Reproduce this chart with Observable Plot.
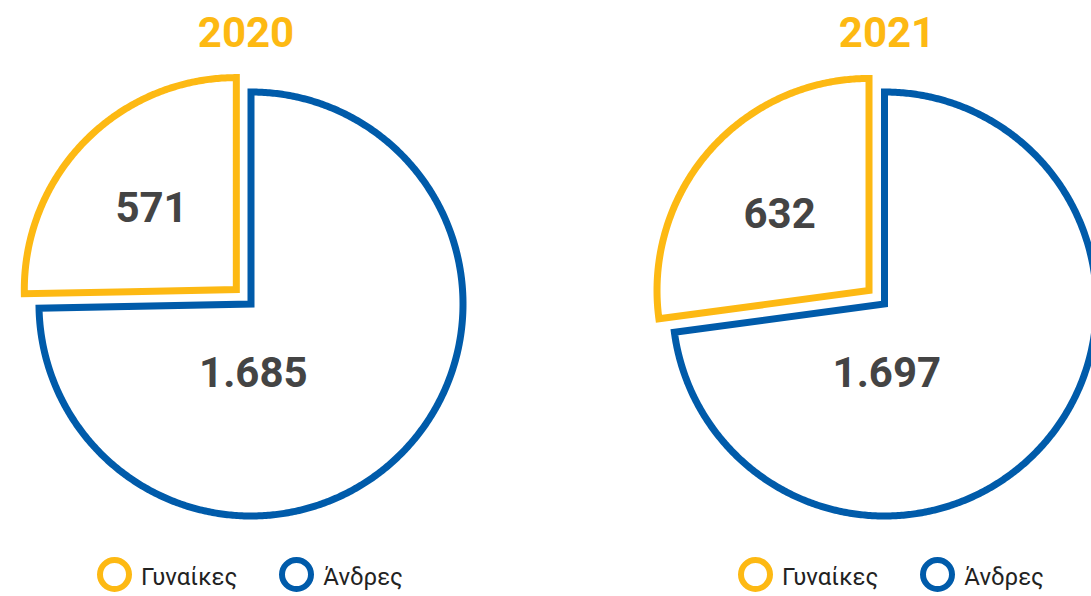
<!DOCTYPE html>
<html>
<head>
<meta charset="utf-8">
<script src="https://cdn.jsdelivr.net/npm/d3@7"></script>
<script src="https://cdn.jsdelivr.net/npm/@observablehq/plot@0.6"></script>
<style>
  html, body { margin: 0; padding: 0; background: #fff; overflow: hidden; }
  #wrap { position: relative; width: 1091px; height: 596px; overflow: hidden; font-family: Roboto, "Noto Sans", sans-serif; }
  #wrap svg { position: absolute; left: 0; top: 0; }
  .title { position: absolute; top: 12px; width: 240px; text-align: center; font: 700 42px/42px Roboto, sans-serif; color: #FDB913; }
  .legend { position: absolute; top: 557px; width: 400px; display: flex; justify-content: center; align-items: center; }
  .item { display: flex; align-items: center; margin: 0 21px; }
  .sw { width: 23px; height: 23px; border-radius: 50%; border: 6px solid; box-sizing: content-box; }
  .lab { margin-left: 9px; font: 400 24px/24px Roboto, sans-serif; color: #222; position: relative; top: 2px; }
</style>
</head>
<body>
<div id="wrap"></div>
<script>
// ---- data ----
const years = [2020, 2021];
const categories = ["Γυναίκες", "Άνδρες"];
const women = [571, 632];
const men = [1685, 1697];
const colors = ["#FDB913", "#005BAA"];

// ---- layout / style config ----
const W = 1091, H = 596;
const R = 212;                 // pie radius in px
const firstCenter = {x: 250.5, y: 303.5};
const gap = 633.5 / R;         // distance between pie centres, in radius units
const explode = [0.097, 0];    // per category, in radius units
const labelCfg = [{mid: true, k: 0.56}, {angle: 178 * Math.PI / 180, k: 0.32}];
const columnCenters = [246, 887];
const legendShift = 4;

const fmt = d3.formatLocale({decimal: ",", thousands: ".", grouping: [3], currency: ["", "€"]}).format(",d");

const slices = [];
const labels = [];
years.forEach((yr, i) => {
  const vals = [women[i], men[i]];
  const total = d3.sum(vals);
  const start = -2 * Math.PI * women[i] / total;
  const arcs = d3.pie().sort(null).startAngle(start).endAngle(start + 2 * Math.PI)(vals);
  arcs.forEach((a, j) => {
    const mid = (a.startAngle + a.endAngle) / 2;
    const cx = i * gap + explode[j] * Math.sin(mid);
    const cy = explode[j] * Math.cos(mid);
    const key = yr + "-" + categories[j];
    const pts = [];
    pts.push([cx + 0.5 * Math.sin(a.startAngle), cy + 0.5 * Math.cos(a.startAngle)]);
    const n = Math.ceil((a.endAngle - a.startAngle) / (Math.PI / 360));
    for (let k = 0; k <= n; k++) {
      const t = a.startAngle + (a.endAngle - a.startAngle) * k / n;
      pts.push([cx + Math.sin(t), cy + Math.cos(t)]);
    }
    pts.push([cx, cy]);
    pts.push(pts[0]);
    pts.forEach(p => slices.push({key, cat: categories[j], x: p[0], y: p[1]}));
    const lc = labelCfg[j];
    const la = lc.mid ? mid : lc.angle;
    labels.push({x: cx + lc.k * Math.sin(la), y: cy + lc.k * Math.cos(la), text: fmt(vals[j])});
  });
});

// draw blue (men) first, then yellow
const ordered = [...slices.filter(d => d.cat === categories[1]), ...slices.filter(d => d.cat === categories[0])];

const chart = Plot.plot({
  width: W,
  height: H,
  margin: 0,
  x: {domain: [-firstCenter.x / R, (W - firstCenter.x) / R], range: [0, W], axis: null},
  y: {domain: [-(H - firstCenter.y) / R, firstCenter.y / R], range: [H, 0], axis: null},
  color: {domain: categories, range: colors},
  style: {background: "transparent", overflow: "visible"},
  marks: [
    Plot.line(ordered, {
      x: "x", y: "y", z: "key",
      stroke: "cat", fill: "white",
      strokeWidth: 7, strokeLinejoin: "miter", strokeMiterlimit: 10, strokeLinecap: "butt",
      curve: "linear"
    }),
    Plot.text(labels, {
      x: "x", y: "y", text: "text",
      fontSize: 42, fontWeight: 700, fill: "#444", fontFamily: "Roboto, sans-serif",
      textAnchor: "middle", lineAnchor: "middle", dy: 2
    })
  ]
});

const wrap = document.getElementById("wrap");
wrap.appendChild(chart);

years.forEach((yr, i) => {
  const t = document.createElement("div");
  t.className = "title";
  t.textContent = yr;
  t.style.left = (columnCenters[i] - 120) + "px";
  wrap.appendChild(t);

  const lg = document.createElement("div");
  lg.className = "legend";
  lg.style.left = (columnCenters[i] + legendShift - 200) + "px";
  categories.forEach((c, j) => {
    const it = document.createElement("div");
    it.className = "item";
    const sw = document.createElement("div");
    sw.className = "sw";
    sw.style.borderColor = colors[j];
    const lb = document.createElement("span");
    lb.className = "lab";
    lb.textContent = c;
    it.appendChild(sw);
    it.appendChild(lb);
    lg.appendChild(it);
  });
  wrap.appendChild(lg);
});
</script>
</body>
</html>
